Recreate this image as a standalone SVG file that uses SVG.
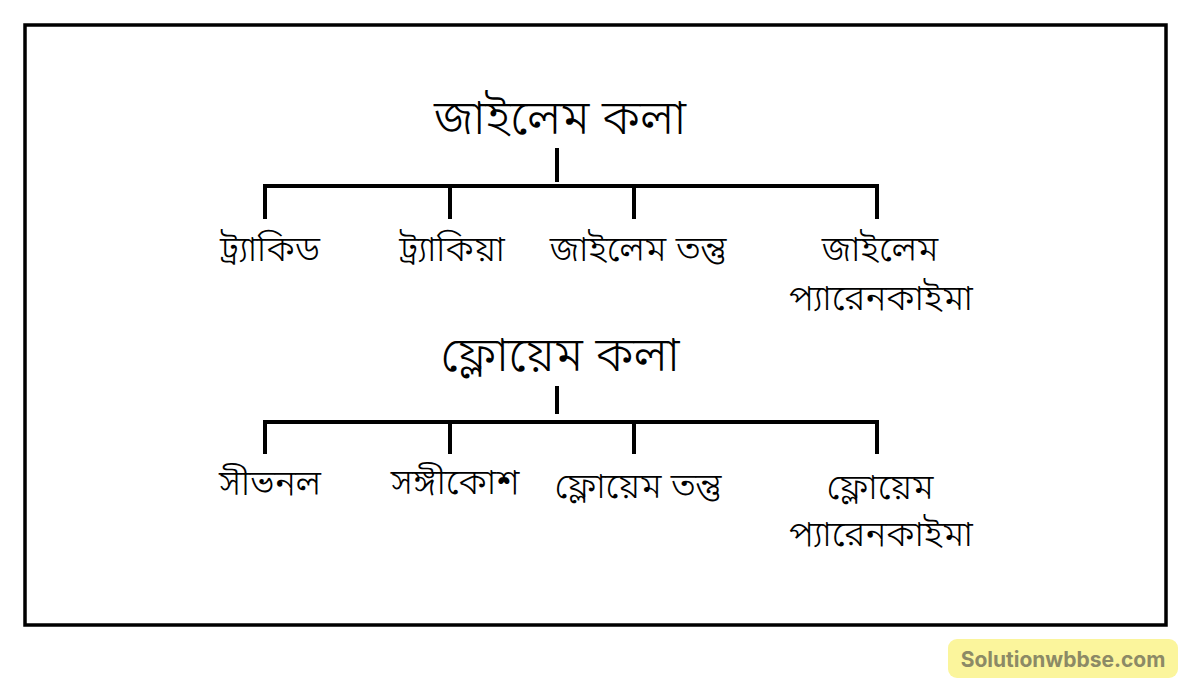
<svg xmlns="http://www.w3.org/2000/svg" width="1200" height="698" viewBox="0 0 1200 698">
<style>
.bn{font-family:"Noto Sans Bengali","Noto Serif Bengali","Lohit Bengali","Noto Sans",sans-serif;fill:#000;text-anchor:middle;font-weight:350}
.title{font-size:48px}
.lbl{font-size:36px}
.ln{stroke:#000;stroke-width:4;fill:none;stroke-linecap:square}
</style>
<rect width="1200" height="698" fill="#fff"/>
<rect x="25" y="25" width="1141" height="600" fill="none" stroke="#000" stroke-width="3.5"/>
<g id="connectors">
<path class="ln" d="M557 150V180M265 186H877M265 186V217M450 186V217M634 186V217M877 186V217"/>
<path class="ln" d="M557 388V412M265 422H877M265 422V452M450 422V452M634 422V452M877 422V452"/>
</g>
<g id="xylem"><text class="bn title" x="560" y="134">জাইলেম কলা</text></g>
<g id="tracheid"><text class="bn lbl" x="270" y="261">ট্র্যাকিড</text></g>
<g id="trachea"><text class="bn lbl" x="452" y="261">ট্র্যাকিয়া</text></g>
<g id="xylem-fibre"><text class="bn lbl" x="638" y="261">জাইলেম তন্তু</text></g>
<g id="xylem-parenchyma"><text class="bn lbl" x="880" y="261">জাইলেম</text><text class="bn lbl" x="881" y="310">প্যারেনকাইমা</text></g>
<g id="phloem"><text class="bn title" x="560" y="371">ফ্লোয়েম কলা</text></g>
<g id="sieve-tube"><text class="bn lbl" x="270" y="495">সীভনল</text></g>
<g id="companion-cell"><text class="bn lbl" x="455" y="494">সঙ্গীকোশ</text></g>
<g id="phloem-fibre"><text class="bn lbl" x="638" y="498">ফ্লোয়েম তন্তু</text></g>
<g id="phloem-parenchyma"><text class="bn lbl" x="880" y="499">ফ্লোয়েম</text><text class="bn lbl" x="881" y="546">প্যারেনকাইমা</text></g>
<g id="watermark">
<rect x="948" y="639" width="230" height="39" rx="9" fill="#fbf59c"/>
<text x="1063" y="667" font-family="Inter,'Open Sans',sans-serif" font-weight="700" font-size="21" fill="#8c8a66" text-anchor="middle">Solutionwbbse.com</text>
</g>
</svg>
